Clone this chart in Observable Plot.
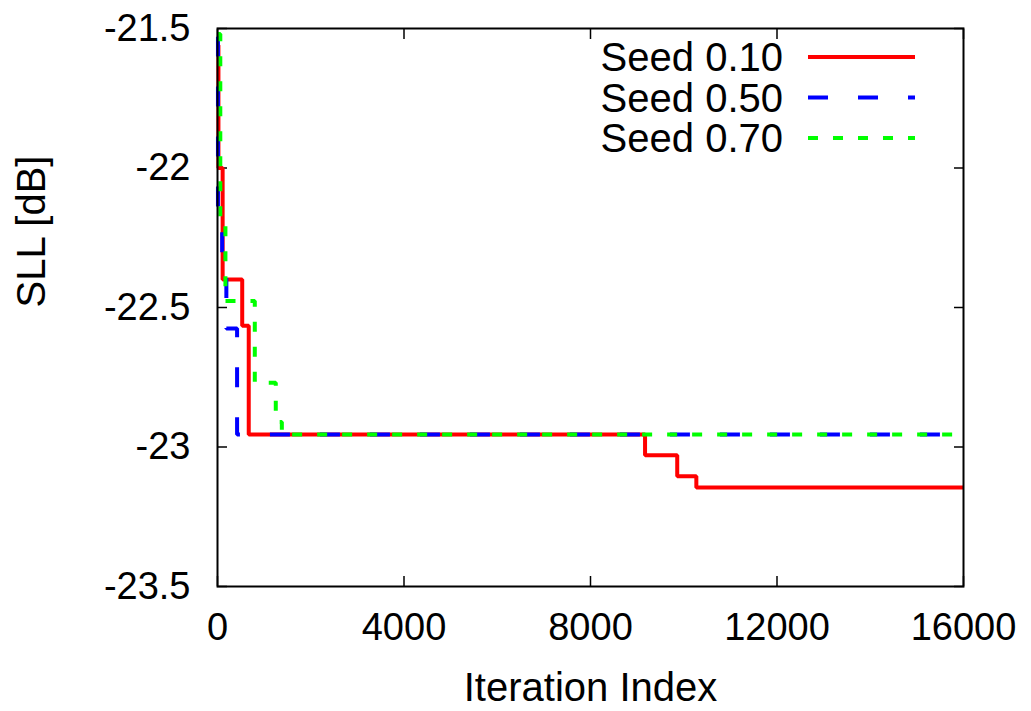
<!DOCTYPE html>
<html>
<head>
<meta charset="utf-8">
<script src="https://cdn.jsdelivr.net/npm/d3@7"></script>
<script src="https://cdn.jsdelivr.net/npm/@observablehq/plot@0.6"></script>
<style>
  html, body { margin: 0; padding: 0; background: #fff; }
  #chart svg { display: block; }
</style>
</head>
<body>
<div id="chart"></div>
<script>
// Best-so-far side-lobe level per iteration for three random seeds
const seedNames = ["Seed 0.10", "Seed 0.50", "Seed 0.70"];
const seedColors = ["#ff0000", "#0000ff", "#00ff00"];
const seedDash = [null, "20,30", "10,15"];

const iterSeed010 = [0, 20, 110, 530, 670, 9170, 9860, 10270, 16000];
const sllSeed010 = [-21.56, -22.0, -22.4, -22.565, -22.955, -23.03, -23.105, -23.145, -23.145];

const iterSeed050 = [0, 10, 100, 190, 420, 16000];
const sllSeed050 = [-21.53, -22.15, -22.38, -22.575, -22.955, -22.955];

const iterSeed070 = [0, 60, 170, 800, 1250, 1380, 16000];
const sllSeed070 = [-21.52, -22.18, -22.477, -22.77, -22.91, -22.955, -22.955];

const xTicks = [0, 4000, 8000, 12000, 16000];
const yTicks = [-21.5, -22, -22.5, -23, -23.5];

const series = [
  iterSeed010.map((x, i) => ({x, y: sllSeed010[i]})),
  iterSeed050.map((x, i) => ({x, y: sllSeed050[i]})),
  iterSeed070.map((x, i) => ({x, y: sllSeed070[i]}))
];

const W = 1031, H = 711;
const font = "'Liberation Sans', Arial, Helvetica, sans-serif";

const plot = Plot.plot({
  width: W,
  height: H,
  marginLeft: 217,
  marginRight: 68,
  marginTop: 28,
  marginBottom: 125,
  style: {fontFamily: font, background: "#fff", color: "#000", overflow: "visible"},
  x: {domain: [0, 16000]},
  y: {domain: [-23.5, -21.5]},
  marks: [
    Plot.axisX({ticks: xTicks, anchor: "bottom", tickSize: -10, tickPadding: 37, strokeWidth: 1.5,
      tickFormat: d => String(d), fontSize: 38, label: null}),
    Plot.axisX({ticks: xTicks, anchor: "top", tickSize: -10, strokeWidth: 1.5,
      tickFormat: () => "", label: null}),
    Plot.axisY({ticks: yTicks, anchor: "left", tickSize: -10, tickPadding: 37, strokeWidth: 1.5,
      tickFormat: d => String(d), fontSize: 38, label: null}),
    Plot.axisY({ticks: yTicks, anchor: "right", tickSize: -10, strokeWidth: 1.5,
      tickFormat: () => "", label: null}),
    ...series.map((data, i) => Plot.line(data, {
      x: "x", y: "y", curve: "step-after",
      stroke: seedColors[i], strokeWidth: 4,
      strokeDasharray: seedDash[i] ?? undefined,
      strokeLinecap: "butt", strokeLinejoin: "miter"
    })),
    Plot.frame({stroke: "#000", strokeWidth: 2}),
    Plot.text(["Iteration Index"], {frameAnchor: "bottom", lineAnchor: "top", dy: 86, fontSize: 40}),
    Plot.text(["SLL [dB]"], {frameAnchor: "left", rotate: -90, dx: -185, fontSize: 40})
  ]
});

// Legend in the upper-right corner: right-aligned names followed by line samples
const svg = d3.select(plot);
const legend = svg.append("g").attr("font-family", font).attr("font-size", 40);
seedNames.forEach((name, i) => {
  const yRow = 57 + i * 40.5;
  legend.append("text")
    .attr("x", 783).attr("y", yRow).attr("dy", "0.35em")
    .attr("text-anchor", "end").attr("fill", "#000")
    .text(name);
  const ln = legend.append("line")
    .attr("x1", 808).attr("x2", 915).attr("y1", yRow).attr("y2", yRow)
    .attr("stroke", seedColors[i]).attr("stroke-width", 4)
    .attr("stroke-linecap", "butt");
  if (seedDash[i]) ln.attr("stroke-dasharray", seedDash[i]);
});

document.getElementById("chart").appendChild(plot);
</script>
</body>
</html>
